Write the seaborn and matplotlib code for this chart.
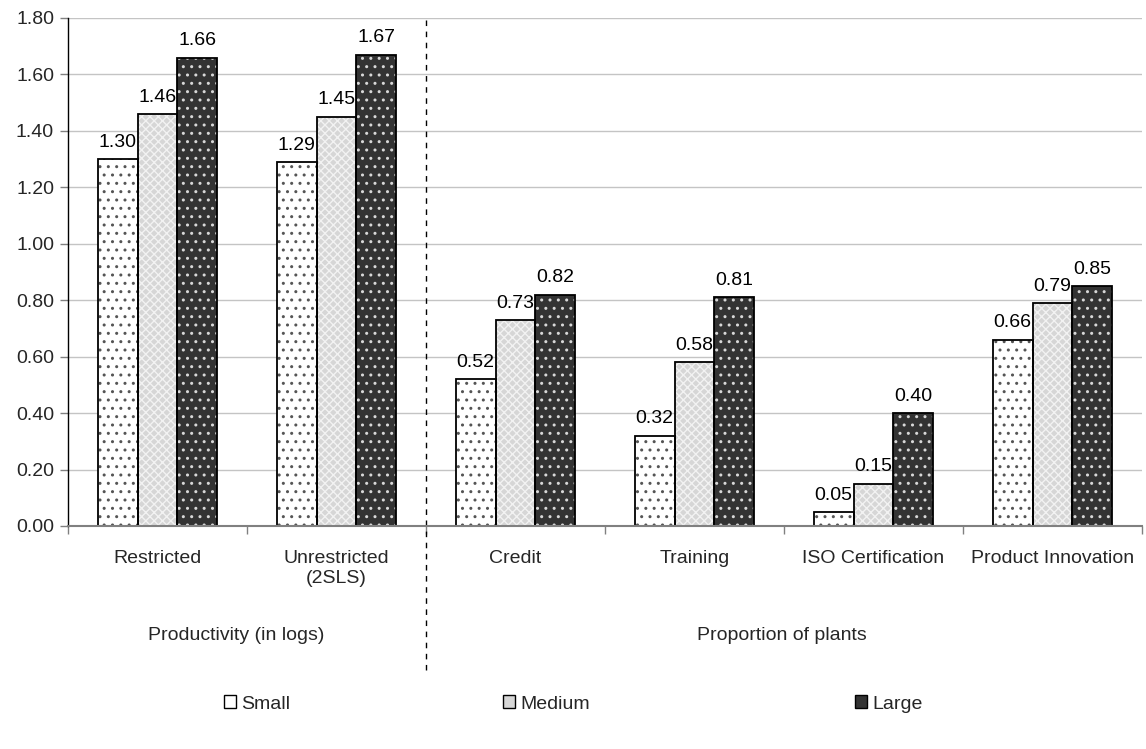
import matplotlib
matplotlib.use("Agg")
import matplotlib.pyplot as plt
from matplotlib.patches import Rectangle, Patch
import seaborn as sns
import pandas as pd

categories = ["Restricted", "Unrestricted\n(2SLS)", "Credit", "Training",
              "ISO Certification", "Product Innovation"]
sizes = ["Small", "Medium", "Large"]
small_vals = [1.30, 1.29, 0.52, 0.32, 0.05, 0.66]
medium_vals = [1.46, 1.45, 0.73, 0.58, 0.15, 0.79]
large_vals = [1.66, 1.67, 0.82, 0.81, 0.40, 0.85]
group_labels = ["Productivity (in logs)", "Proportion of plants"]
y_ticks = [0.0, 0.2, 0.4, 0.6, 0.8, 1.0, 1.2, 1.4, 1.6, 1.8]

face = {"Small": "#ffffff", "Medium": "#d6d6d6", "Large": "#333333"}
hatch = {"Small": "..", "Medium": "xxxx", "Large": ".."}
hatch_col = {"Small": "#555555", "Medium": "#f2f2f2", "Large": "#d8d8d8"}

FS = 14
AX_L, AX_R, AX_T, AX_B = 68, 1142, 18, 526
AX_H = AX_B - AX_T

sns.set_theme(style="white")
plt.rcParams["font.family"] = ["Liberation Sans", "DejaVu Sans"]
plt.rcParams["hatch.linewidth"] = 1.0

df = pd.DataFrame({
    "category": categories * 3,
    "size": ["Small"] * 6 + ["Medium"] * 6 + ["Large"] * 6,
    "value": small_vals + medium_vals + large_vals,
})

fig = plt.figure(figsize=(11.46, 7.49), dpi=100)
ax = fig.add_axes([AX_L / 1146, 1 - AX_B / 749, (AX_R - AX_L) / 1146, AX_H / 749])

sns.barplot(data=df, x="category", y="value", hue="size", order=categories,
            hue_order=sizes, palette=face, width=0.67, gap=0, ax=ax,
            legend=False, errorbar=None, saturation=1)

for cont, s in zip(ax.containers, sizes):
    for r in cont:
        r.set_hatch(hatch[s])
        r.set_edgecolor(hatch_col[s])
        r.set_linewidth(0)
        ax.add_patch(Rectangle(r.get_xy(), r.get_width(), r.get_height(),
                               fill=False, edgecolor="black", linewidth=1.3,
                               zorder=r.get_zorder() + 0.1))
    ax.bar_label(cont, fmt="%.2f", padding=6, fontsize=FS, color="black")

ax.set_ylim(0, 1.8)
ax.set_xlim(-0.5, 5.5)
ax.set_yticks(y_ticks)
ax.set_yticklabels([f"{v:.2f}" for v in y_ticks], fontsize=FS)
ax.yaxis.grid(True, color="#c4c4c4", linewidth=1)
ax.set_axisbelow(True)
ax.set_xlabel("")
ax.set_ylabel("")
ax.tick_params(axis="y", which="major", left=True, length=6, width=1,
               color="#808080", pad=4)
ax.tick_params(axis="x", which="major", bottom=False, length=0, pad=17,
               labelsize=FS)
ax.set_xticks([i - 0.5 for i in range(7)], minor=True)
ax.tick_params(axis="x", which="minor", bottom=True, length=6, width=1,
               color="#808080", direction="out")
for lbl in ax.get_xticklabels():
    lbl.set_linespacing(1.25)

for side in ["top", "right"]:
    ax.spines[side].set_visible(False)
ax.spines["left"].set_color("black")
ax.spines["left"].set_linewidth(1)
ax.spines["bottom"].set_color("#808080")
ax.spines["bottom"].set_linewidth(1.5)

ax.axvline(1.5, ymin=(AX_B - 670) / AX_H, ymax=1.0, color="black",
           linestyle=(0, (4, 4)), linewidth=1, clip_on=False)

gy = (AX_B - 636) / AX_H
ax.text(0.44, gy, group_labels[0], transform=ax.get_xaxis_transform(),
        ha="center", va="center", fontsize=FS)
ax.text(3.49, gy, group_labels[1], transform=ax.get_xaxis_transform(),
        ha="center", va="center", fontsize=FS)

legend_x = [224, 503, 855]
for s, lx in zip(sizes, legend_x):
    h = Patch(facecolor=face[s], edgecolor="black", linewidth=1)
    fig.legend(handles=[h], labels=[s], loc="center left",
               bbox_to_anchor=(lx / 1146, 1 - 704 / 749), frameon=False,
               handlelength=0.62, handleheight=0.62, handletextpad=0.25,
               borderpad=0, borderaxespad=0, fontsize=FS)

fig.savefig("out.png", dpi=100)
